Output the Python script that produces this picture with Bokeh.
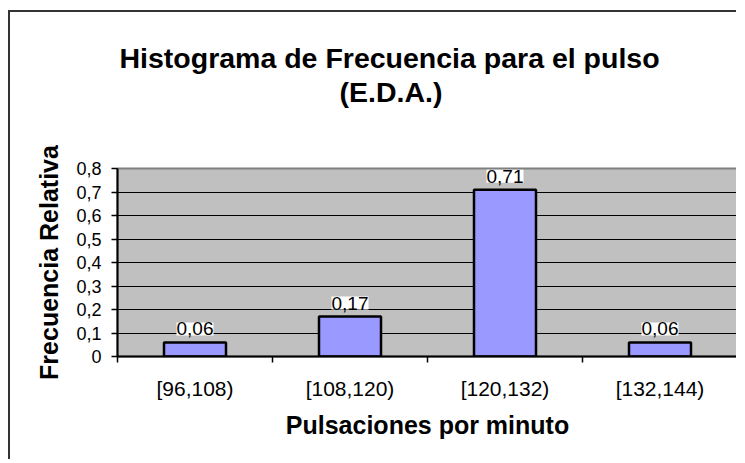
from bokeh.plotting import figure
from bokeh.models import (ColumnDataSource, Range1d, FixedTicker, LabelSet, Title,
                          CustomJSTickFormatter)
from bokeh.core.properties import value
from bokeh.embed import file_html
from bokeh.resources import INLINE

categories = ["[96,108)", "[108,120)", "[120,132)", "[132,144)"]
values = [0.06, 0.17, 0.71, 0.06]
y_ticks = [0, 0.1, 0.2, 0.3, 0.4, 0.5, 0.6, 0.7, 0.8]
title_line1 = "Histograma de Frecuencia para el pulso"
title_line2 = "(E.D.A.)"

FONT = "Liberation Sans"

xs = list(range(len(categories)))
labels = [f"{v:.2f}".replace(".", ",") for v in values]
src = ColumnDataSource(dict(x=xs, top=values, label=labels))

p = figure(width=728, height=449, output_backend="svg", toolbar_location=None,
           x_range=Range1d(-0.5, len(categories) - 0.5), y_range=Range1d(0, 0.8),
           min_border_left=107, min_border_right=1, min_border_bottom=105,
           min_border_top=156)
p.styles = {"border-top": "2px solid #333333", "border-left": "2px solid #333333",
            "margin-left": "8px", "margin-top": "10px"}

p.background_fill_color = "#C0C0C0"
p.border_fill_color = "white"
p.outline_line_color = "#808080"
p.outline_line_width = 2

p.vbar(x="x", top="top", width=0.4, bottom=0, source=src,
       fill_color="#9999FF", line_color="black", line_width=2.5)

p.add_layout(LabelSet(x="x", y="top", text="label", source=src, text_align="center",
                      text_baseline="bottom", y_offset=7, text_font=value(FONT),
                      text_font_size=value("19px"), text_color="black",
                      background_fill_color="white"))

TITLE_STYLE = dict(text_color="black", text_font=FONT, text_font_size="28.5px",
                   text_font_style="bold", align="left", standoff=0)
# blank spacer title between the frame and the two title lines
p.add_layout(Title(text=" ", **dict(TITLE_STYLE, standoff=27)), "above")
p.add_layout(Title(text=title_line2, offset=222, **TITLE_STYLE), "above")
p.title.text = title_line1
for k, v in TITLE_STYLE.items():
    setattr(p.title, k, v)
p.title.offset = 2

# grid
p.xgrid.grid_line_color = None
p.ygrid.ticker = FixedTicker(ticks=y_ticks)
p.ygrid.grid_line_color = "black"
p.ygrid.grid_line_width = 1

# y axis
p.yaxis.ticker = FixedTicker(ticks=y_ticks)
p.yaxis.formatter = CustomJSTickFormatter(
    code="return tick == 0 ? '0' : tick.toFixed(1).replace('.', ',');")
p.yaxis.axis_label = "Frecuencia Relativa"
p.yaxis.axis_label_text_font = FONT
p.yaxis.axis_label_text_font_size = "25px"
p.yaxis.axis_label_text_font_style = "bold"
p.yaxis.axis_label_text_color = "black"
p.yaxis.axis_label_standoff = 10
p.yaxis.major_label_text_font = FONT
p.yaxis.major_label_text_font_size = "18px"
p.yaxis.major_label_text_color = "black"
p.yaxis.major_label_standoff = 10
p.yaxis.major_tick_out = 6
p.yaxis.major_tick_in = 0
p.yaxis.minor_tick_line_color = None
p.yaxis.axis_line_width = 2
p.yaxis.major_tick_line_width = 1.5

# x axis
xaxis = p.below[0]
xaxis.ticker = FixedTicker(ticks=xs, minor_ticks=[i - 0.5 for i in range(len(categories) + 1)])
xaxis.major_label_overrides = {i: c for i, c in zip(xs, categories)}
xaxis.major_tick_line_color = None
xaxis.minor_tick_out = 6
xaxis.minor_tick_in = 0
xaxis.minor_tick_line_color = "black"
xaxis.minor_tick_line_width = 1.5
xaxis.axis_line_width = 2
xaxis.axis_label = "Pulsaciones por minuto"
xaxis.axis_label_text_font = FONT
xaxis.axis_label_text_font_size = "25px"
xaxis.axis_label_text_font_style = "bold"
xaxis.axis_label_text_color = "black"
xaxis.axis_label_standoff = 8
xaxis.major_label_text_font = FONT
xaxis.major_label_text_font_size = "21px"
xaxis.major_label_text_color = "black"
xaxis.major_label_standoff = 14

open("out.html", "w").write(file_html(p, INLINE))
